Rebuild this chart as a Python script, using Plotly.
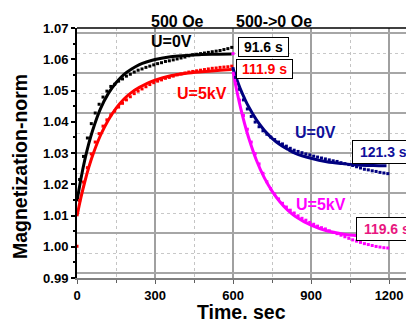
import plotly.graph_objects as go

# ---- measured data: relaxation of normalised magnetization ----
# field on (500 Oe), growth stage, samples every 15 s
t_up = [10, 25, 40, 55, 70, 85, 100, 115, 130, 145, 160, 175, 190, 205, 220, 235,
        250, 265, 280, 295, 310, 325, 340, 355, 370, 385, 400, 415, 430, 445, 460,
        475, 490, 505, 520, 535, 550, 565, 580, 595]
m_0v_up = [1.0215, 1.0289, 1.0348, 1.0394, 1.0428, 1.0456, 1.0479, 1.0498, 1.0513, 1.0520,
           1.0530, 1.0537, 1.0546, 1.0552, 1.0559, 1.0565, 1.0569, 1.0574, 1.0578, 1.0582,
           1.0586, 1.0589, 1.0593, 1.0595, 1.0598, 1.0601, 1.0604, 1.0607, 1.0611, 1.0614,
           1.0616, 1.0618, 1.0620, 1.0622, 1.0624, 1.0626, 1.0628, 1.0631, 1.0634, 1.0638]
m_5kv_up = [1.0148, 1.0207, 1.0253, 1.0297, 1.0335, 1.0362, 1.0386, 1.0406, 1.0422, 1.0434,
            1.0447, 1.0459, 1.0470, 1.0480, 1.0490, 1.0498, 1.0505, 1.0512, 1.0519, 1.0525,
            1.0530, 1.0534, 1.0539, 1.0542, 1.0546, 1.0550, 1.0553, 1.0556, 1.0559, 1.0561,
            1.0563, 1.0565, 1.0567, 1.0569, 1.0571, 1.0572, 1.0574, 1.0575, 1.0576, 1.0578]

# field switched off (500 -> 0 Oe), decay stage
t_down = [600, 610, 625, 640, 655, 670, 685, 700, 715, 730, 745, 760, 775, 790, 805, 820,
          835, 850, 865, 880, 895, 910, 925, 940, 955, 970, 985, 1000, 1015, 1030, 1045,
          1060, 1075, 1090, 1105, 1120, 1135, 1150, 1165, 1180, 1195]
m_0v_down = [1.0570, 1.0542, 1.0504, 1.0470, 1.0441, 1.0417, 1.0399, 1.0384, 1.0371, 1.0360,
             1.0351, 1.0343, 1.0335, 1.0329, 1.0322, 1.0315, 1.0309, 1.0305, 1.0301, 1.0297,
             1.0294, 1.0290, 1.0287, 1.0284, 1.0281, 1.0278, 1.0275, 1.0273, 1.0269, 1.0266,
             1.0263, 1.0260, 1.0256, 1.0252, 1.0248, 1.0246, 1.0243, 1.0241, 1.0238, 1.0236,
             1.0234]
m_5kv_down = [1.0618, 1.0522, 1.0469, 1.0420, 1.0376, 1.0335, 1.0298, 1.0265, 1.0235, 1.0208,
              1.0186, 1.0168, 1.0153, 1.0139, 1.0127, 1.0117, 1.0108, 1.0099, 1.0091, 1.0085,
              1.0078, 1.0072, 1.0066, 1.0061, 1.0057, 1.0051, 1.0046, 1.0042, 1.0037, 1.0032,
              1.0027, 1.0022, 1.0018, 1.0014, 1.0010, 1.0007, 1.0004, 1.0001, 0.9999, 0.9997,
              0.9996]
# first (reference) point of the 5 kV run
t_start = [0]
m_start = [1.0002]

# ---- exponential fits ----
t_fit_up = [0, 15, 30, 45, 60, 90, 120, 150, 180, 210, 240, 270, 300, 360, 420, 480, 540, 595]
fit_0v_up = [1.0146, 1.0217, 1.0278, 1.0329, 1.0372, 1.0441, 1.0490, 1.0525, 1.0551, 1.0569,
             1.0583, 1.0592, 1.0599, 1.0608, 1.0612, 1.0615, 1.0616, 1.0617]
fit_5kv_up = [1.0098, 1.0157, 1.0208, 1.0253, 1.0292, 1.0356, 1.0405, 1.0443, 1.0472, 1.0494,
              1.0510, 1.0523, 1.0533, 1.0547, 1.0555, 1.0560, 1.0564, 1.0567]

t_fit_down = [600, 615, 630, 645, 660, 690, 720, 750, 780, 810, 840, 900, 960, 1020, 1080,
              1140, 1190]
fit_0v_down = [1.0570, 1.0534, 1.0501, 1.0473, 1.0448, 1.0406, 1.0373, 1.0347, 1.0327, 1.0312,
               1.0299, 1.0283, 1.0272, 1.0266, 1.0262, 1.0260, 1.0259]
fit_5kv_down = [1.0560, 1.0497, 1.0441, 1.0392, 1.0349, 1.0277, 1.0221, 1.0178, 1.0144, 1.0117,
                1.0097, 1.0069, 1.0051, 1.0041, 1.0035, 1.0031, 1.0029]

# relaxation times from the fits
tau_labels = ["91.6 s", "111.9 s", "121.3 s", "119.6 s"]

BLACK, RED, NAVY, MAGENTA = "#000000", "#ff0000", "#000080", "#ff00ff"
TXT_BLUE, TXT_PINK = "#10109a", "#e8177f"
FONT = "Liberation Sans, Arial, sans-serif"

fig = go.Figure()

# helper trace that carries the background grid on a hidden overlay axis
fig.add_trace(go.Scatter(x=[None], y=[None], yaxis="y2", showlegend=False, hoverinfo="skip"))

for tx, ty, col in [(t_fit_up, fit_0v_up, BLACK), (t_fit_up, fit_5kv_up, RED),
                    (t_fit_down, fit_0v_down, NAVY), (t_fit_down, fit_5kv_down, MAGENTA)]:
    fig.add_trace(go.Scatter(x=tx, y=ty, mode="lines", showlegend=False,
                             line=dict(color=col, width=3, shape="spline")))

for tx, ty, col in [(t_up, m_0v_up, BLACK), (t_up, m_5kv_up, RED),
                    (t_down, m_0v_down, NAVY), (t_down, m_5kv_down, MAGENTA),
                    (t_start, m_start, RED)]:
    fig.add_trace(go.Scatter(x=tx, y=ty, mode="markers", showlegend=False,
                             marker=dict(color=col, size=3, symbol="square", line=dict(width=0))))

bold = dict(family=FONT, weight="bold")

# curve labels
for txt, x, y, col in [("U=0V", 362, 1.0658, BLACK), ("U=5kV", 481, 1.0492, RED),
                       ("U=0V", 917, 1.0366, TXT_BLUE), ("U=5kV", 940, 1.0135, MAGENTA)]:
    fig.add_annotation(x=x, y=y, text=txt, showarrow=False, xanchor="center", yanchor="middle",
                       font=dict(size=16, color=col, **bold))

# boxed relaxation times (left edge of each box given in data units)
for txt, x, y, col, pad in [(tau_labels[0], 618, 1.0638, BLACK, 1),
                            (tau_labels[1], 611, 1.0569, RED, 1),
                            (tau_labels[2], 1058, 1.0302, TXT_BLUE, 3),
                            (tau_labels[3], 1073, 1.0058, TXT_PINK, 3)]:
    fig.add_annotation(x=x, y=y, text="&nbsp;" + txt + "&nbsp;", showarrow=False,
                       xanchor="left", yanchor="middle",
                       bgcolor="white", bordercolor="black", borderwidth=1, borderpad=pad,
                       font=dict(size=14, color=col, **bold))

# stage headers above the plot
for txt, x in [("500 Oe", 386), ("500->0 Oe", 758)]:
    fig.add_annotation(x=x, y=1.024, yref="paper", text=txt, showarrow=False,
                       xanchor="center", yanchor="middle",
                       font=dict(size=16, color="black", **bold))

# axis titles
fig.add_annotation(x=-0.173, y=0.444, xref="paper", yref="paper", text="Magnetization-norm",
                   textangle=-90, showarrow=False, xanchor="center", yanchor="middle",
                   font=dict(size=19.5, color="black", **bold))
fig.add_annotation(x=0.5, y=-0.136, xref="paper", yref="paper", text="Time. sec",
                   showarrow=False, xanchor="center", yanchor="middle",
                   font=dict(size=19.5, color="black", **bold))

# top frame line
fig.add_shape(type="line", xref="paper", yref="paper", x0=0, x1=1, y0=1, y1=1,
              line=dict(color="black", width=1.5))

fig.update_layout(
    width=406, height=322,
    margin=dict(l=77, r=0, t=28, b=44),
    paper_bgcolor="white", plot_bgcolor="white",
    showlegend=False,
    xaxis=dict(range=[0, 1265], tick0=0, dtick=300, showgrid=True,
               gridcolor="#a0a0a0", gridwidth=1.5, zeroline=False,
               showline=True, linecolor="#808080", linewidth=2,
               ticks="outside", ticklen=4, tickcolor="#606060", tickwidth=1,
               tickfont=dict(size=13, color="black", **bold),
               minor=dict(dtick=150, showgrid=True, gridcolor="#c4c4c4", griddash="dot",
                          gridwidth=1, ticks="outside", ticklen=3, tickcolor="#606060")),
    yaxis=dict(range=[0.99, 1.07], dtick=0.01, tickformat=".2f", showgrid=False,
               zeroline=False, showline=True, linecolor="black", linewidth=2,
               ticks="outside", ticklen=4, tickwidth=1.5, tickcolor="black",
               tickfont=dict(size=13, color="black", **bold),
               minor=dict(dtick=0.005, ticks="outside", ticklen=2, tickcolor="black")),
    yaxis2=dict(overlaying="y", side="right", range=[0, 250], tick0=5, dtick=40,
                showgrid=True, gridcolor="#a6a6a6", gridwidth=1.5,
                showticklabels=False, ticks="", showline=False, zeroline=False,
                minor=dict(dtick=20, tick0=5, showgrid=True, gridcolor="#c8c8c8",
                           griddash="dot", gridwidth=1)),
)

fig.write_html("out.html")
